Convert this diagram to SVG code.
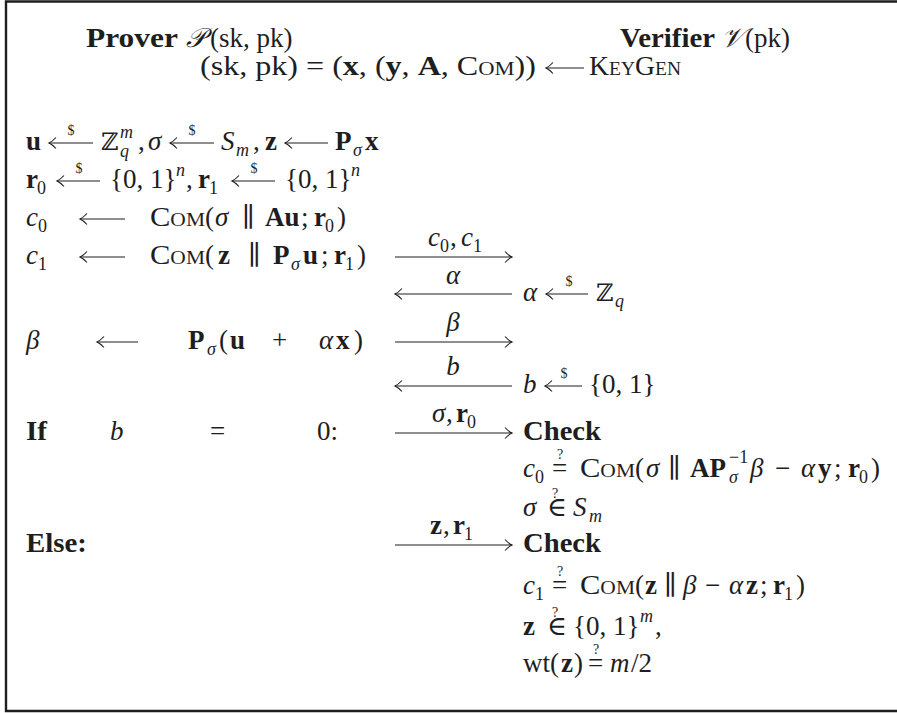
<svg xmlns="http://www.w3.org/2000/svg" width="897" height="713" viewBox="0 0 897 713">
<style>
text { font-family: "Liberation Serif","DejaVu Serif",serif; font-size: 27px; fill: #1e1e1e; }
.b { font-weight: bold; }
.i { font-style: italic; }
.sc { font-variant: small-caps; }
.s { font-size: 18px; }
.d { font-size: 14px; }
.m { text-anchor: middle; }
.bb { font-family: "DejaVu Serif", serif; font-size: 24px; }
.cal { font-family: "DejaVu Serif","DejaVu Sans","Noto Sans",serif; font-style: italic; }
.ar { stroke: #1e1e1e; stroke-width: 1.1; fill: none; marker-end: url(#ah); }
.frame { stroke: #1e1e1e; stroke-width: 2.4; fill: none; }
</style>
<defs>
<marker id="ah" markerUnits="userSpaceOnUse" markerWidth="12" markerHeight="14" viewBox="-10 -7 12 14" refX="0" refY="0" orient="auto">
<path d="M-7,-5.5 Q-3,-1.2 0,0 Q-3,1.2 -7,5.5" fill="none" stroke="#1e1e1e" stroke-width="1.1"/>
</marker>
</defs>
<path class="frame" d="M898,1.5 H6 V711 H898"/>

<g id="header">
<text x="86" y="47" class="b" textLength="92" lengthAdjust="spacingAndGlyphs">Prover</text>
<text x="186" y="47" class="cal">𝒫</text>
<text x="210" y="47">(sk, pk)</text>
<text x="620" y="47" class="b" textLength="95" lengthAdjust="spacingAndGlyphs">Verifier</text>
<text x="721" y="47" class="cal">𝒱</text>
<text x="745" y="47">(pk)</text>
</g>

<g id="keygen">
<text x="200" y="75" textLength="336" lengthAdjust="spacingAndGlyphs">(sk, pk) = (<tspan class="b">x</tspan>, (<tspan class="b">y</tspan>, <tspan class="b">A</tspan>, <tspan class="sc">Com</tspan>))</text>
<line class="ar" x1="584" y1="68" x2="546" y2="68"/>
<text x="589" y="75" class="sc" textLength="92" lengthAdjust="spacingAndGlyphs">KeyGen</text>
</g>

<g id="prover-commit">
<text x="26" y="150" class="b">u</text>
<line class="ar" x1="93" y1="143" x2="49" y2="143"/>
<text x="71" y="135" class="d m">$</text>
<text x="101" y="150" class="bb">ℤ</text>
<text x="120" y="138" class="s i">m</text>
<text x="120" y="157" class="s i">q</text>
<text x="138" y="150">,</text>
<text x="148" y="150" class="i">σ</text>
<line class="ar" x1="214" y1="143" x2="170" y2="143"/>
<text x="192" y="135" class="d m">$</text>
<text x="221" y="150" class="i">S</text>
<text x="236" y="156" class="s i">m</text>
<text x="253" y="150">,</text>
<text x="265" y="150" class="b">z</text>
<line class="ar" x1="328" y1="143" x2="285" y2="143"/>
<text x="335" y="150" class="b">P</text>
<text x="353" y="156" class="s i">σ</text>
<text x="365" y="150" class="b">x</text>

<text x="26" y="188" class="b">r</text>
<text x="37" y="194" class="s">0</text>
<line class="ar" x1="100" y1="181" x2="57" y2="181"/>
<text x="79" y="173" class="d m">$</text>
<text x="110" y="188">{0, 1}</text>
<text x="176" y="176" class="s i">n</text>
<text x="186" y="188">,</text>
<text x="198" y="188" class="b">r</text>
<text x="209" y="194" class="s">1</text>
<line class="ar" x1="275" y1="181" x2="232" y2="181"/>
<text x="254" y="173" class="d m">$</text>
<text x="285" y="188">{0, 1}</text>
<text x="351" y="176" class="s i">n</text>

<text x="26" y="226" class="i">c</text>
<text x="38" y="232" class="s">0</text>
<line class="ar" x1="125" y1="219" x2="80" y2="219"/>
<text x="150" y="226" class="sc" textLength="55" lengthAdjust="spacingAndGlyphs">Com</text>
<text x="205" y="226">(</text>
<text x="215" y="226" class="i">σ</text>
<text x="242" y="226">∥</text>
<text x="265" y="226" class="b">Au</text>
<text x="301" y="226">;</text>
<text x="314" y="226" class="b">r</text>
<text x="325" y="232" class="s">0</text>
<text x="337" y="226">)</text>

<text x="26" y="264" class="i">c</text>
<text x="38" y="270" class="s">1</text>
<line class="ar" x1="125" y1="257" x2="80" y2="257"/>
<text x="150" y="264" class="sc" textLength="55" lengthAdjust="spacingAndGlyphs">Com</text>
<text x="205" y="264">(</text>
<text x="218" y="264" class="b">z</text>
<text x="248" y="264">∥</text>
<text x="273" y="264" class="b">P</text>
<text x="291" y="270" class="s i">σ</text>
<text x="303" y="264" class="b">u</text>
<text x="321" y="264">;</text>
<text x="334" y="264" class="b">r</text>
<text x="345" y="270" class="s">1</text>
<text x="357" y="264">)</text>
</g>

<g id="verifier-challenge">
<text x="523" y="301" class="i">α</text>
<line class="ar" x1="588" y1="294" x2="546" y2="294"/>
<text x="569" y="286" class="d m">$</text>
<text x="596" y="301" class="bb">ℤ</text>
<text x="615" y="307" class="s i">q</text>
</g>

<g id="prover-response">
<text x="26" y="349" class="i">β</text>
<line class="ar" x1="138" y1="342" x2="97" y2="342"/>
<text x="188" y="349" class="b">P</text>
<text x="207" y="355" class="s i">σ</text>
<text x="219" y="349">(</text>
<text x="230" y="349" class="b">u</text>
<text x="272" y="349">+</text>
<text x="319" y="349" class="i">α</text>
<text x="336" y="349" class="b">x</text>
<text x="354" y="349">)</text>
</g>

<g id="verifier-bit">
<text x="523" y="393" class="i">b</text>
<line class="ar" x1="582" y1="386" x2="545" y2="386"/>
<text x="564" y="378" class="d m">$</text>
<text x="589" y="393">{0, 1}</text>
</g>

<g id="branch-if">
<text x="26" y="440" class="b" textLength="21" lengthAdjust="spacingAndGlyphs">If</text>
<text x="110" y="440" class="i">b</text>
<text x="210" y="440">=</text>
<text x="317" y="440">0:</text>
</g>

<g id="check-0">
<text x="523" y="440" class="b" textLength="78" lengthAdjust="spacingAndGlyphs">Check</text>
<text x="523" y="477" class="i">c</text>
<text x="535" y="483" class="s">0</text>
<text x="557" y="459" class="d">?<tspan x="552" y="477" style="font-size:27px">=</tspan></text>
<text x="580" y="477" class="sc" textLength="55" lengthAdjust="spacingAndGlyphs">Com</text>
<text x="635" y="477">(</text>
<text x="646" y="477" class="i">σ</text>
<text x="668" y="477">∥</text>
<text x="690" y="477" class="b">AP</text>
<text x="729" y="483" class="s i">σ</text>
<text x="729" y="463" class="s">−1</text>
<text x="750" y="477" class="i">β</text>
<text x="775" y="477">−</text>
<text x="801" y="477" class="i">α</text>
<text x="818" y="477" class="b">y</text>
<text x="834" y="477">;</text>
<text x="848" y="477" class="b">r</text>
<text x="859" y="483" class="s">0</text>
<text x="871" y="477">)</text>
<text x="523" y="516" class="i">σ</text>
<text x="552" y="498" class="d">?<tspan x="547" y="516" style="font-size:27px">∈</tspan></text>
<text x="573" y="516" class="i">S</text>
<text x="589" y="522" class="s i">m</text>
</g>

<g id="branch-else">
<text x="26" y="552" class="b" textLength="61" lengthAdjust="spacingAndGlyphs">Else:</text>
</g>

<g id="check-1">
<text x="523" y="552" class="b" textLength="78" lengthAdjust="spacingAndGlyphs">Check</text>
<text x="523" y="594" class="i">c</text>
<text x="535" y="600" class="s">1</text>
<text x="557" y="576" class="d">?<tspan x="552" y="594" style="font-size:27px">=</tspan></text>
<text x="580" y="594" class="sc" textLength="55" lengthAdjust="spacingAndGlyphs">Com</text>
<text x="635" y="594">(</text>
<text x="645" y="594" class="b">z</text>
<text x="664" y="594">∥</text>
<text x="683" y="594" class="i">β</text>
<text x="705" y="594">−</text>
<text x="729" y="594" class="i">α</text>
<text x="746" y="594" class="b">z</text>
<text x="760" y="594">;</text>
<text x="773" y="594" class="b">r</text>
<text x="784" y="600" class="s">1</text>
<text x="796" y="594">)</text>
<text x="523" y="635" class="b">z</text>
<text x="552" y="617" class="d">?<tspan x="547" y="635" style="font-size:27px">∈</tspan></text>
<text x="573" y="635">{0, 1}</text>
<text x="640" y="622" class="s i">m</text>
<text x="655" y="635">,</text>
<text x="523" y="672">wt(</text>
<text x="561" y="672" class="b">z</text>
<text x="574" y="672">)</text>
<text x="593" y="654" class="d">?<tspan x="588" y="672" style="font-size:27px">=</tspan></text>
<text x="610" y="672" class="i">m</text>
<text x="631" y="672">/2</text>
</g>

<g id="connectors">
<line class="ar" x1="395" y1="257" x2="512" y2="257"/>
<line class="ar" x1="512" y1="294" x2="395" y2="294"/>
<line class="ar" x1="395" y1="342" x2="512" y2="342"/>
<line class="ar" x1="512" y1="386" x2="395" y2="386"/>
<line class="ar" x1="395" y1="433" x2="512" y2="433"/>
<line class="ar" x1="395" y1="545" x2="512" y2="545"/>
<text x="428" y="246" class="i">c</text>
<text x="440" y="252" class="s">0</text>
<text x="450" y="246">,</text>
<text x="461" y="246" class="i">c</text>
<text x="473" y="252" class="s">1</text>
<text x="453" y="284" class="i m">α</text>
<text x="453" y="331" class="i m">β</text>
<text x="453" y="375" class="i m">b</text>
<text x="432" y="422" class="i">σ</text>
<text x="446" y="422">,</text>
<text x="456" y="422" class="b">r</text>
<text x="467" y="428" class="s">0</text>
<text x="430" y="534" class="b">z</text>
<text x="443" y="534">,</text>
<text x="453" y="534" class="b">r</text>
<text x="464" y="540" class="s">1</text>
</g>
</svg>
